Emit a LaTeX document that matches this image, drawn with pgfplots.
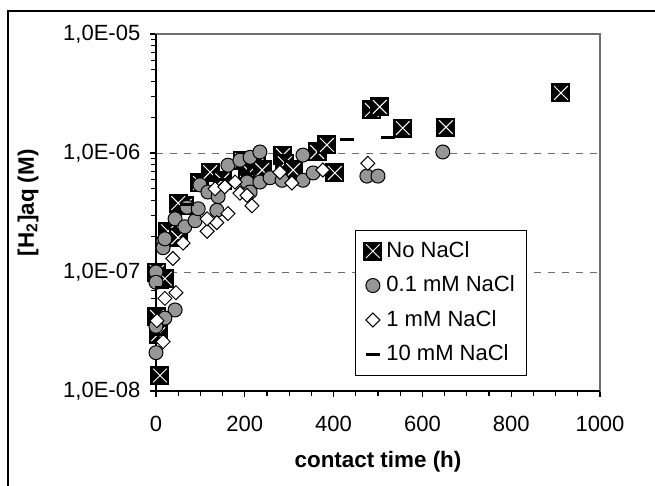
\documentclass[border=0pt]{standalone}
\usepackage{pgfplots}
\pgfplotsset{compat=1.18}
\usepackage{fontspec}
\setmainfont{Liberation Sans}
\definecolor{cgray}{RGB}{150,150,150}
\definecolor{bgray}{RGB}{110,110,110}
\pgfdeclareplotmark{sqx}{%
  \pgfpathrectangle{\pgfqpoint{-\pgfplotmarksize}{-\pgfplotmarksize}}{\pgfqpoint{2\pgfplotmarksize}{2\pgfplotmarksize}}%
  \pgfsetfillcolor{black}\pgfusepathqfill
  \pgfsetstrokecolor{white}\pgfsetlinewidth{0.5pt}%
  \pgfpathmoveto{\pgfqpoint{-0.72\pgfplotmarksize}{-0.72\pgfplotmarksize}}%
  \pgfpathlineto{\pgfqpoint{0.72\pgfplotmarksize}{0.72\pgfplotmarksize}}%
  \pgfpathmoveto{\pgfqpoint{-0.72\pgfplotmarksize}{0.72\pgfplotmarksize}}%
  \pgfpathlineto{\pgfqpoint{0.72\pgfplotmarksize}{-0.72\pgfplotmarksize}}%
  \pgfusepathqstroke
}
\pgfdeclareplotmark{dia}{%
  \pgfpathmoveto{\pgfqpoint{0pt}{\pgfplotmarksize}}%
  \pgfpathlineto{\pgfqpoint{\pgfplotmarksize}{0pt}}%
  \pgfpathlineto{\pgfqpoint{0pt}{-\pgfplotmarksize}}%
  \pgfpathlineto{\pgfqpoint{-\pgfplotmarksize}{0pt}}%
  \pgfpathclose
  \pgfusepathqfillstroke
}
\pgfdeclareplotmark{bar}{%
  \pgfpathrectangle{\pgfqpoint{-\pgfplotmarksize}{-0.75pt}}{\pgfqpoint{2\pgfplotmarksize}{1.5pt}}%
  \pgfsetfillcolor{black}\pgfusepathqfill
}
\begin{document}
\fontsize{11}{13.2}\selectfont
\begin{tikzpicture}
\useasboundingbox (-78pt,-47.5pt) rectangle (249.5pt,195.5pt);
\draw[line width=0.8pt] (-74pt,-60pt) -- (-74pt,190pt) -- (260pt,190pt);
\begin{axis}[
  at={(0pt,0pt)}, anchor=south west,
  scale only axis, width=222pt, height=178.5pt,
  xmin=0, xmax=1000, ymode=log, ymin=1e-8, ymax=1e-5,
  xtick={0,200,400,600,800,1000},
  xticklabels={0,200,400,600,800,1000},
  minor x tick num=3,
  ytick={1e-8,1e-7,1e-6,1e-5},
  yticklabels={{1,0E-08},{1,0E-07},{1,0E-06},{1,0E-05}},
  xtick pos=bottom, ytick pos=left,
  tick align=outside,
  major tick length=3pt, minor tick length=2.5pt,
  tick style={black, line width=0.6pt},
  /pgf/number format/assume math mode=true,
  ymajorgrids,
  grid style={bgray, line width=0.5pt, dash pattern=on 3.5pt off 3.5pt},
  axis line style={bgray, line width=0.7pt},
  yticklabel style={font=\fontsize{11}{13.2}\selectfont, xshift=-1pt},
  xticklabel style={font=\fontsize{11}{13.2}\selectfont, yshift=-5.5pt},
  xlabel={\bfseries contact time (h)},
  ylabel={\bfseries [H\textsubscript{2}]aq (M)},
  xlabel style={at={(axis description cs:0.5,-0.199)}, anchor=center, font=\fontsize{11.2}{13.4}\selectfont},
  ylabel style={at={(axis description cs:-0.288,0.527)}, anchor=center, font=\fontsize{11.2}{13.4}\selectfont},
  legend cell align=left,
  legend style={at={(axis description cs:0.448,0.451)}, anchor=north west,
    draw=black, line width=0.5pt, font=\fontsize{11}{13.2}\selectfont,
    row sep=3.6pt, inner xsep=4pt, inner ysep=3.5pt},
  legend image code/.code={\draw[#1] plot coordinates {(0.3cm,0cm)};},
  clip=false,
]
\addplot[only marks, mark=sqx, mark size=4.75pt] coordinates {
(9,1.35e-8) (2,4.2e-8) (5,3.0e-8) (2,1.0e-7) (20,8.8e-8) (27,2.2e-7)
(50,1.95e-7) (65,3.6e-7) (50,3.8e-7) (99,5.6e-7) (122,6.9e-7) (149,5.9e-7)
(194,8.7e-7) (205,7.2e-7) (212,6.9e-7) (227,7.9e-7) (239,7.2e-7) (286,9.6e-7)
(290,8.2e-7) (309,7.2e-7) (363,1.02e-6) (385,1.17e-6) (403,6.8e-7)
(486,2.3e-6) (504,2.44e-6) (556,1.62e-6) (653,1.65e-6) (912,3.2e-6)
};
\addlegendentry{No NaCl}
\addplot[only marks, mark=*, mark size=3.5pt, mark options={fill=cgray, draw=black, line width=0.5pt}] coordinates {
(0,1.0e-7) (0,8.2e-8) (43,4.8e-8) (20,4.1e-8) (0,3.5e-8) (0,2.1e-8)
(16,1.8e-7) (16,1.6e-7) (20,1.9e-7) (43,2.8e-7) (65,2.4e-7) (88,2.7e-7)
(70,3.5e-7) (95,3.4e-7) (99,5.4e-7) (117,4.7e-7) (140,4.3e-7) (137,3.3e-7)
(162,7.9e-7) (189,8.7e-7) (205,5.7e-7) (212,4.7e-7) (212,9.2e-7) (234,1.02e-6)
(234,5.7e-7) (257,6.2e-7) (284,5.9e-7) (331,5.9e-7) (331,9.6e-7) (354,6.8e-7)
(475,6.4e-7) (500,6.4e-7) (646,1.02e-6)
};
\addlegendentry{0.1 mM NaCl}
\addplot[only marks, mark=dia, mark size=3.5pt, mark options={fill=white, draw=black, line width=0.5pt}] coordinates {
(2,3.9e-8) (16,2.6e-8) (20,6.0e-8) (45,6.7e-8) (38,1.3e-7) (61,1.75e-7)
(115,2.2e-7) (137,2.6e-7) (162,3.1e-7) (115,2.8e-7) (133,5.0e-7) (155,5.2e-7)
(178,5.7e-7) (189,4.6e-7) (205,4.4e-7) (216,3.6e-7) (279,6.9e-7) (306,5.6e-7)
(376,7.2e-7) (477,8.2e-7)
};
\addlegendentry{1 mM NaCl}
\addplot[only marks, mark=bar, mark size=3.6pt] coordinates {
(14,7.4e-8) (5,3.0e-8) (70,3.7e-7) (150,6.0e-7) (430,1.31e-6) (522,1.36e-6)
};
\addlegendentry{10 mM NaCl}
\draw[black, line width=0.8pt] (axis description cs:0,1) -- (axis description cs:0,0) -- (axis description cs:1,0);
\end{axis}
\end{tikzpicture}
\end{document}
